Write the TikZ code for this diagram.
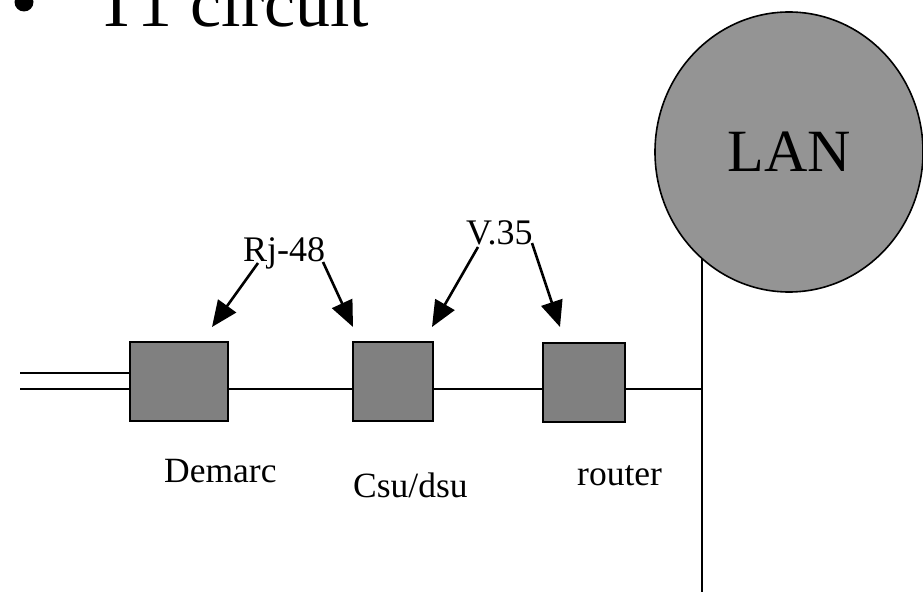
\documentclass[tikz,border=0pt]{standalone}
\usepackage{fontspec}
\setmainfont{Liberation Serif}
\usetikzlibrary{shapes.geometric,arrows.meta}
\begin{document}
\begin{tikzpicture}[x=1pt,y=-1pt,
  devbox/.style={draw,line width=2.6pt,fill=black!50,inner sep=0pt,minimum height=79pt},
  wire/.style={line width=1.8pt},
  pointer/.style={line width=2.6pt,-{Triangle[length=26pt,width=22pt]}},
  lbl/.style={font=\fontsize{35.5}{40}\selectfont,anchor=base west,inner sep=0pt},
  toplbl/.style={font=\fontsize{36}{42}\selectfont,anchor=base west,inner sep=0pt}]
\useasboundingbox (0,0) rectangle (923,593);
% title
\node[circle,fill=black,inner sep=0pt,minimum size=19pt] (bullet) at (24,2) {};
\node[font=\fontsize{70}{80}\selectfont,anchor=base west,inner sep=0pt] (title) at (95,27) {T1 circuit};
% LAN cloud
\node[ellipse,draw,line width=1.6pt,fill=black!42,minimum width=268pt,minimum height=280pt,inner sep=0pt,
  font=\fontsize{60}{70}\selectfont] (lan) at (789,152) {LAN};
% devices
\node[devbox,minimum width=98pt] (demarc) at (179,381.5) {};
\node[devbox,minimum width=80pt] (csu) at (393,381.5) {};
\node[devbox,minimum width=82pt] (router) at (584,382.5) {};
% wires
\coordinate (lineY) at (0,389);
\coordinate (in1) at (20,373);
\coordinate (in2) at (20,389);
\coordinate (vtop) at (702,259);
\coordinate (vbot) at (702,592);
\draw[wire] (in1) -- (demarc.west |- in1);
\draw[wire] (in2) -- (demarc.west |- in2);
\draw[wire] (demarc.east |- lineY) -- (csu.west |- lineY);
\draw[wire] (csu.east |- lineY) -- (router.west |- lineY);
\draw[wire] (router.east |- lineY) -- (vtop |- lineY);
\draw[line width=2.2pt] (vtop) -- (vbot);
% labels
\node[toplbl] (rj) at (243,262) {Rj-48};
\node[toplbl] (v35) at (466,245) {V.35};
\node[lbl] (ldemarc) at (164,482) {Demarc};
\node[lbl] (lcsu) at (353,497) {Csu/dsu};
\node[lbl] (lrouter) at (577,485) {router};
% arrows
\coordinate (rjA) at (258,263);
\coordinate (rjB) at (323,262);
\coordinate (vA) at (478,247);
\coordinate (vB) at (532,243);
\coordinate (tipA) at (212,327);
\coordinate (tipB) at (353,327);
\coordinate (tipC) at (432,327);
\coordinate (tipD) at (560,327);
\draw[pointer] (rjA) -- (tipA);
\draw[pointer] (rjB) -- (tipB);
\draw[pointer] (vA) -- (tipC);
\draw[pointer] (vB) -- (tipD);
\end{tikzpicture}
\end{document}
